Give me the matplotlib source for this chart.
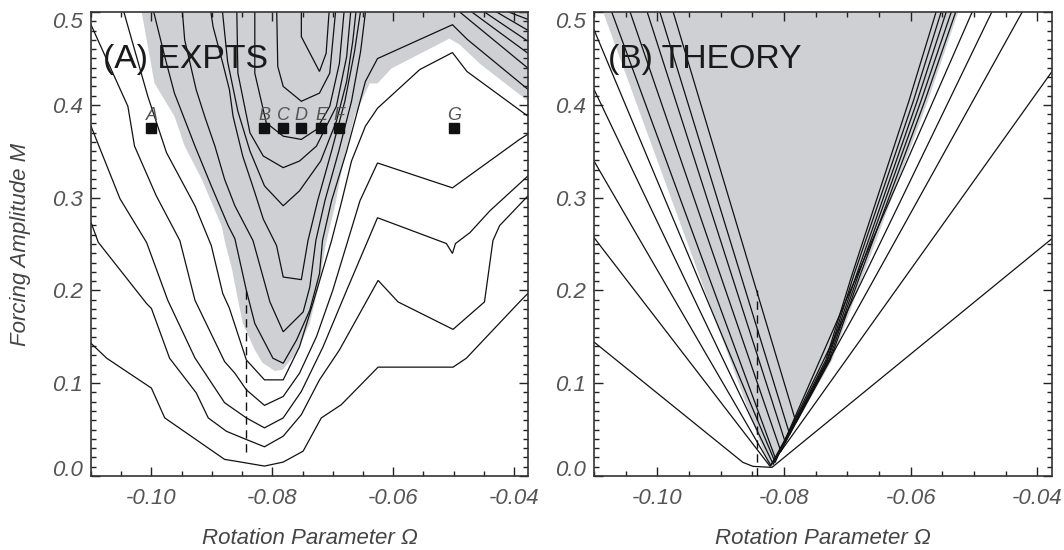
import matplotlib
matplotlib.use("Agg")
import matplotlib.pyplot as plt
from matplotlib.ticker import MultipleLocator, FixedLocator, FixedFormatter

plt.rcParams['font.family'] = ['Liberation Sans', 'DejaVu Sans']
plt.rcParams['axes.unicode_minus'] = False

# ---------------- axis settings ----------------
XLIM = (-0.1100, -0.0377)
YLIM = (0.0, 0.500)
XTICKS = [-0.10, -0.08, -0.06, -0.04]
XTICKLABELS = ['-0.10', '-0.08', '-0.06', '-0.04']
YTICKS = [0.0, 0.1, 0.2, 0.3, 0.4, 0.5]
YTICKLABELS = ['0.0', '0.1', '0.2', '0.3', '0.4', '0.5']

# ---------------- (A) experiments ----------------
exp_marker_names = ['A', 'B', 'C', 'D', 'E', 'F', 'G']
exp_marker_om = [-0.1000, -0.0813, -0.0782, -0.0752, -0.0719, -0.0689, -0.0500]
exp_marker_m = [0.375, 0.375, 0.375, 0.375, 0.375, 0.375, 0.375]

exp_gray_om = [-0.1019, -0.0995, -0.0962, -0.0945, -0.0917, -0.0884, -0.0877, -0.0867,
               -0.0859, -0.0849, -0.0829, -0.0816, -0.0796, -0.0783, -0.0760, -0.0738,
               -0.0722, -0.0712, -0.0695, -0.0684, -0.0664, -0.0639, -0.0626, -0.0603,
               -0.0507, -0.0490, -0.0455, -0.0370, -0.0370]
exp_gray_m = [0.510, 0.4234, 0.3877, 0.3555, 0.3201, 0.2697, 0.2483, 0.2237,
              0.1969, 0.1647, 0.1358, 0.1219, 0.1133, 0.1144, 0.1326, 0.1647,
              0.2076, 0.2483, 0.2947, 0.3341, 0.3877, 0.4230, 0.4230, 0.4391,
              0.4713, 0.4648, 0.4434, 0.4005, 0.510]

exp_c1_om = [-0.1100, -0.1074, -0.1000, -0.0978, -0.0879, -0.0862, -0.0813, -0.0782,
             -0.0749, -0.0719, -0.0686, -0.0625, -0.0501, -0.0479, -0.0391, -0.0377]
exp_c1_m = [0.1430, 0.1269, 0.0947, 0.0626, 0.0179, 0.0161, 0.0107, 0.0150,
            0.0268, 0.0626, 0.0768, 0.1173, 0.1173, 0.1269, 0.1876, 0.1969]

exp_c2_om = [-0.1100, -0.1088, -0.1008, -0.1000, -0.0970, -0.0926, -0.0906, -0.0876,
             -0.0843, -0.0813, -0.0782, -0.0752, -0.0722, -0.0689, -0.0625, -0.0592,
             -0.0501, -0.0449, -0.0435, -0.0424, -0.0377]
exp_c2_m = [0.2733, 0.2519, 0.1858, 0.1805, 0.1269, 0.0897, 0.0626, 0.0482,
            0.0393, 0.0315, 0.0429, 0.0661, 0.1036, 0.1358, 0.2108, 0.1876,
            0.1580, 0.1876, 0.2537, 0.2698, 0.3019]

exp_c3_om = [-0.1100, -0.1052, -0.1008, -0.0973, -0.0928, -0.0879, -0.0843, -0.0813,
             -0.0782, -0.0752, -0.0716, -0.0677, -0.0642, -0.0626, -0.0512, -0.0502,
             -0.0497, -0.0473, -0.0440, -0.0377]
exp_c3_m = [0.3770, 0.2987, 0.2516, 0.1894, 0.1272, 0.0790, 0.0626, 0.0519,
            0.0626, 0.0911, 0.1393, 0.2001, 0.2537, 0.2783, 0.2505, 0.2398,
            0.2505, 0.2623, 0.2858, 0.3234]

exp_c4_om = [-0.1100, -0.1039, -0.1028, -0.0992, -0.0953, -0.0928, -0.0879, -0.0862,
             -0.0843, -0.0813, -0.0782, -0.0755, -0.0727, -0.0700, -0.0675, -0.0655,
             -0.0626, -0.0502, -0.0391, -0.0377]
exp_c4_m = [0.4863, 0.3984, 0.3555, 0.3019, 0.2537, 0.1894, 0.1233, 0.1108,
            0.0929, 0.0761, 0.0857, 0.1108, 0.1501, 0.2001, 0.2537, 0.2966,
            0.3373, 0.3105, 0.3627, 0.3684]

exp_c5_om = [-0.1050, -0.1006, -0.0975, -0.0928, -0.0901, -0.0882, -0.0871, -0.0843,
             -0.0813, -0.0782, -0.0755, -0.0733, -0.0702, -0.0685, -0.0669, -0.0646,
             -0.0626, -0.0556, -0.0502, -0.0478, -0.0377]
exp_c5_m = [0.510, 0.4091, 0.3483, 0.2912, 0.2483, 0.1966, 0.1808, 0.1251,
            0.1036, 0.1036, 0.1393, 0.1858, 0.2537, 0.2966, 0.3394, 0.3770,
            0.3963, 0.4380, 0.4563, 0.4359, 0.3877]

exp_c6_om = [-0.1000, -0.0978, -0.0962, -0.0945, -0.0928, -0.0901, -0.0873, -0.0862,
             -0.0843, -0.0829, -0.0799, -0.0782, -0.0760, -0.0738, -0.0722, -0.0717,
             -0.0702, -0.0677, -0.0657, -0.0646, -0.0626, -0.0502, -0.0477, -0.0377]
exp_c6_m = [0.510, 0.4520, 0.4126, 0.3841, 0.3555, 0.3126, 0.2697, 0.2558,
            0.2001, 0.1644, 0.1269, 0.1215, 0.1465, 0.1787, 0.2180, 0.2537,
            0.2966, 0.3502, 0.3984, 0.4252, 0.4498, 0.4863, 0.4702, 0.4166]

exp_c7_om = [-0.0950, -0.0945, -0.0926, -0.0912, -0.0895, -0.0879, -0.0862, -0.0832,
             -0.0804, -0.0782, -0.0749, -0.0738, -0.0728, -0.0713, -0.0690, -0.0669,
             -0.0654, -0.0644]
exp_c7_m = [0.510, 0.4699, 0.4163, 0.3877, 0.3555, 0.3198, 0.2912, 0.2537,
            0.1876, 0.1554, 0.1768, 0.2036, 0.2537, 0.2966, 0.3502, 0.4038,
            0.4573, 0.510]

exp_c8_om = [-0.0904, -0.0898, -0.0882, -0.0871, -0.0865, -0.0849, -0.0829, -0.0815,
             -0.0793, -0.0782, -0.0752, -0.0741, -0.0725, -0.0702, -0.0680, -0.0664,
             -0.0652]
exp_c8_m = [0.510, 0.4841, 0.4448, 0.4163, 0.3877, 0.3448, 0.3055, 0.2769,
            0.2483, 0.2144, 0.2116, 0.2537, 0.2966, 0.3502, 0.4038, 0.4573,
            0.510]

exp_c9_om = [-0.0884, -0.0874, -0.0857, -0.0837, -0.0813, -0.0782, -0.0755, -0.0720,
             -0.0694, -0.0677, -0.0667, -0.0660]
exp_c9_m = [0.510, 0.4466, 0.3930, 0.3502, 0.3126, 0.2912, 0.3073, 0.3394,
            0.3823, 0.4252, 0.4681, 0.510]

exp_c10_om = [-0.0859, -0.0857, -0.0837, -0.0815, -0.0782, -0.0755, -0.0727, -0.0694,
              -0.0677, -0.0669]
exp_c10_m = [0.510, 0.4341, 0.3698, 0.3448, 0.3323, 0.3394, 0.3555, 0.3984,
             0.4520, 0.510]

exp_c11_om = [-0.0829, -0.0829, -0.0810, -0.0782, -0.0752, -0.0727, -0.0705, -0.0689, -0.0680]
exp_c11_m = [0.510, 0.4341, 0.3805, 0.3662, 0.3627, 0.3734, 0.3984, 0.4448, 0.510]

exp_c12_om = [-0.0793, -0.0791, -0.0782, -0.0752, -0.0722, -0.0705, -0.0694]
exp_c12_m = [0.510, 0.4413, 0.4198, 0.4038, 0.4126, 0.4341, 0.510]

exp_c13_om = [-0.0752, -0.0752, -0.0722, -0.0711, -0.0705]
exp_c13_m = [0.510, 0.4734, 0.4359, 0.4555, 0.510]

# short contours in the upper-right corner: top-edge crossing -> right-edge crossing
exp_corner_top_om = [-0.0490, -0.0470, -0.0449, -0.0429, -0.0409]
exp_corner_right_m = [0.4394, 0.4555, 0.4684, 0.4802, 0.4920]

exp_dash_om = [-0.0843, -0.0843]
exp_dash_m = [0.0254, 0.200]

# ---------------- (B) theory ----------------
th_gray_om = [-0.1091, -0.0520, -0.0573, -0.0675, -0.0724, -0.0819, -0.0825]
th_gray_m = [0.510, 0.510, 0.4038, 0.2162, 0.1251, 0.0093, 0.0126]

th_t1_om = [-0.1100, -0.0865, -0.0849, -0.0819, -0.0377]
th_t1_m = [0.1444, 0.0147, 0.0104, 0.0093, 0.2558]
th_t2_om = [-0.1100, -0.0822, -0.0377]
th_t2_m = [0.2569, 0.0104, 0.4359]
th_t3_om = [-0.1100, -0.0821, -0.0424]
th_t3_m = [0.3394, 0.0115, 0.500]
th_t4_om = [-0.1100, -0.0817, -0.0472]
th_t4_m = [0.4166, 0.0126, 0.500]
th_t5_om = [-0.1100, -0.0814, -0.0503]
th_t5_m = [0.4809, 0.0147, 0.500]
th_t6_om = [-0.1072, -0.0813, -0.0734, -0.0693, -0.0603, -0.0560]
th_t6_m = [0.500, 0.0179, 0.1251, 0.2162, 0.4038, 0.500]
th_t7_om = [-0.1043, -0.0805, -0.0732, -0.0690, -0.0596, -0.0552]
th_t7_m = [0.500, 0.0265, 0.1251, 0.2162, 0.4038, 0.500]
th_t8_om = [-0.1016, -0.0798, -0.0731, -0.0686, -0.0590, -0.0544]
th_t8_m = [0.500, 0.0362, 0.1251, 0.2162, 0.4038, 0.500]
th_t9_om = [-0.0996, -0.0791, -0.0729, -0.0683, -0.0584, -0.0536]
th_t9_m = [0.500, 0.0447, 0.1251, 0.2162, 0.4038, 0.500]
th_t10_om = [-0.0975, -0.0781, -0.0727, -0.0680, -0.0578, -0.0529]
th_t10_m = [0.500, 0.0576, 0.1251, 0.2162, 0.4038, 0.500]

th_dash_om = [-0.0843, -0.0843]
th_dash_m = [0.0, 0.200]

# ---------------- drawing ----------------
GRAY = '#cfd0d3'
LINE = '#111111'
TXT = '#555555'

W, H = 1064, 550
fig = plt.figure(figsize=(W / 100, H / 100), dpi=100)


def px_axes(l, r, t, b):
    return [l / W, (H - b) / H, (r - l) / W, (b - t) / H]


ax1 = fig.add_axes(px_axes(91, 528, 12, 476))
ax2 = fig.add_axes(px_axes(594, 1052, 12, 476))


def style(ax):
    ax.set_xlim(*XLIM)
    ax.set_ylim(*YLIM)
    ax.xaxis.set_major_locator(FixedLocator(XTICKS))
    ax.xaxis.set_major_formatter(FixedFormatter(XTICKLABELS))
    ax.xaxis.set_minor_locator(MultipleLocator(0.005))
    ax.yaxis.set_major_locator(FixedLocator(YTICKS))
    ax.yaxis.set_major_formatter(FixedFormatter(YTICKLABELS))
    ax.yaxis.set_minor_locator(MultipleLocator(0.01))
    ax.tick_params(which='both', direction='in', top=True, right=True,
                   color='#222222', width=1.0, labelsize=16, labelcolor=TXT)
    ax.tick_params(which='major', length=6.5)
    ax.tick_params(which='minor', length=3.4)
    ax.tick_params(axis='x', which='major', pad=8.5)
    ax.tick_params(axis='y', which='major', pad=6)
    for s in ax.spines.values():
        s.set_linewidth(1.2)
        s.set_color('#333333')


style(ax1)
style(ax2)

# panel A
ax1.fill(exp_gray_om, exp_gray_m, color=GRAY, lw=0, zorder=1)
exp_lines = [(exp_c1_om, exp_c1_m), (exp_c2_om, exp_c2_m), (exp_c3_om, exp_c3_m),
             (exp_c4_om, exp_c4_m), (exp_c5_om, exp_c5_m), (exp_c6_om, exp_c6_m),
             (exp_c7_om, exp_c7_m), (exp_c8_om, exp_c8_m), (exp_c9_om, exp_c9_m),
             (exp_c10_om, exp_c10_m), (exp_c11_om, exp_c11_m), (exp_c12_om, exp_c12_m),
             (exp_c13_om, exp_c13_m)]
for xs, ys in exp_lines:
    ax1.plot(xs, ys, color=LINE, lw=0.9, zorder=2, solid_joinstyle='miter')
for xt, yr in zip(exp_corner_top_om, exp_corner_right_m):
    ax1.plot([xt, XLIM[1]], [YLIM[1], yr], color=LINE, lw=0.9, zorder=2)
ax1.plot(exp_dash_om, exp_dash_m, color=LINE, lw=1.0, ls=(0, (6, 4)), zorder=3)
ax1.plot(exp_marker_om, exp_marker_m, ls='none', marker='s', ms=7, color='#111111', zorder=4)
for name, xo, yo in zip(exp_marker_names, exp_marker_om, exp_marker_m):
    ax1.text(xo, yo + 0.009, name, ha='center', va='baseline', fontsize=13,
             style='italic', color=TXT, zorder=5)
ax1.text(0.0275, 0.880, '(A) EXPTS', transform=ax1.transAxes, fontsize=24.3,
         color='#1a1a1a', ha='left', va='baseline', zorder=6)

# panel B
ax2.fill(th_gray_om, th_gray_m, color=GRAY, lw=0, zorder=1)
th_lines = [(th_t1_om, th_t1_m), (th_t2_om, th_t2_m), (th_t3_om, th_t3_m),
            (th_t4_om, th_t4_m), (th_t5_om, th_t5_m), (th_t6_om, th_t6_m),
            (th_t7_om, th_t7_m), (th_t8_om, th_t8_m), (th_t9_om, th_t9_m),
            (th_t10_om, th_t10_m)]
for xs, ys in th_lines:
    ax2.plot(xs, ys, color=LINE, lw=0.9, zorder=2)
ax2.plot(th_dash_om, th_dash_m, color=LINE, lw=1.0, ls=(0, (6, 4)), zorder=3)
ax2.text(0.0306, 0.880, '(B) THEORY', transform=ax2.transAxes, fontsize=24.3,
         color='#1a1a1a', ha='left', va='baseline', zorder=6)

# tick label styling (end labels pulled inside the frame, as in the original)
fig.canvas.draw()
for ax in (ax1, ax2):
    for lab in ax.get_xticklabels() + ax.get_yticklabels():
        lab.set_fontstyle('italic')
    ylabs = ax.get_yticklabels()
    ylabs[0].set_verticalalignment('baseline')
    ylabs[-1].set_verticalalignment('top')

# axis titles
fig.text(309.5 / W, 1.5 / H, 'Rotation Parameter \u03a9', ha='center', va='bottom',
         fontsize=16, style='italic', color='#444444')
fig.text(823 / W, 1.5 / H, 'Rotation Parameter \u03a9', ha='center', va='bottom',
         fontsize=16, style='italic', color='#444444')
fig.text(21 / W, (H - 244) / H, 'Forcing Amplitude M', ha='center', va='center', rotation=90,
         fontsize=16, style='italic', color='#444444')

fig.savefig('out.png', dpi=100)
